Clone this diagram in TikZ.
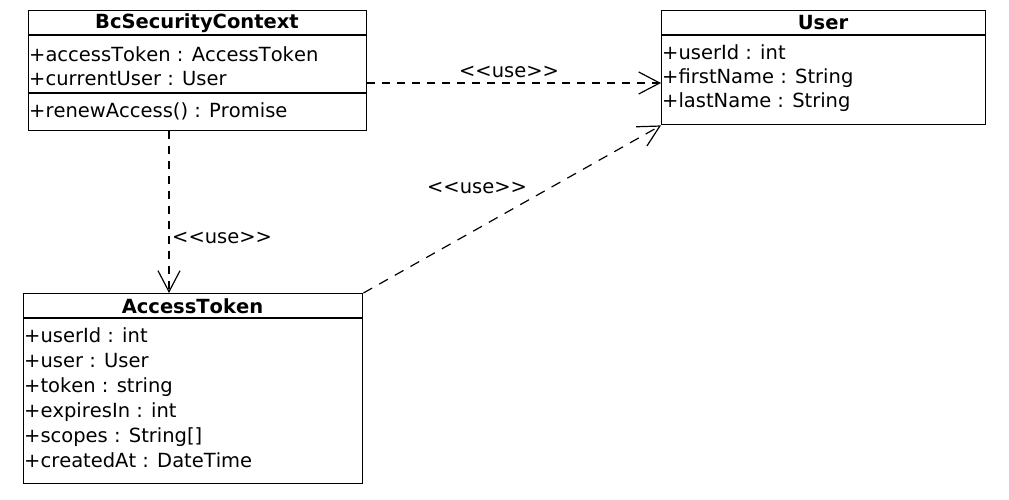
\documentclass[tikz,border=0pt]{standalone}
\usepackage{fontspec}
\setmainfont{DejaVu Sans}[Ligatures=TeXOff, Kerning=Off]
\usetikzlibrary{arrows.meta}
\begin{document}
\begin{tikzpicture}[x=1pt,y=-1pt,
  classbox/.style={draw=black, line width=1.4pt, anchor=north west, inner sep=0pt},
  sepline/.style={line width=1.4pt},
  attr/.style={anchor=base west, inner sep=0pt, font=\fontsize{19.5}{23}\selectfont},
  title/.style={anchor=base, inner sep=0pt, font=\fontsize{19.5}{23}\selectfont\bfseries},
  lbl/.style={inner sep=0pt, font=\fontsize{19.5}{23}\selectfont},
  usedep/.style={line width=1.2pt, dash pattern=on 8pt off 7pt, -{Straight Barb[length=21pt,width=22pt,line width=1.2pt]}},
  longdash/.style={dash pattern=on 10pt off 8pt}
]
\useasboundingbox (0,0) rectangle (1009,499);
\fill[white] (0,0) rectangle (1009,499);

% BcSecurityContext
\node[classbox, minimum width=338pt, minimum height=120pt] (bc) at (28,10) {};
\draw[sepline] (bc.west |- 0,35) -- (bc.east |- 0,35);
\draw[sepline] (bc.west |- 0,93) -- (bc.east |- 0,93);
\node[title] (bct) at (197,28.5) {BcSecurityContext};
\node[attr] (bca1) at (29,61) {+accessToken : AccessToken};
\node[attr] (bca2) at (29,85) {+currentUser : User};
\node[attr] (bcm1) at (29,117) {+renewAccess() : Promise};

% User
\node[classbox, minimum width=324pt, minimum height=114pt] (user) at (661,10) {};
\draw[sepline] (user.west |- 0,35) -- (user.east |- 0,35);
\node[title] (usert) at (823,29) {User};
\node[attr] (usera1) at (662,59) {+userId : int};
\node[attr] (usera2) at (662,83) {+firstName : String};
\node[attr] (usera3) at (662,107) {+lastName : String};

% AccessToken
\node[classbox, minimum width=339pt, minimum height=190pt] (at) at (23,293) {};
\draw[sepline] (at.west |- 0,318) -- (at.east |- 0,318);
\node[title] (att) at (192.5,313) {AccessToken};
\node[attr] (ata1) at (24,342) {+userId : int};
\node[attr] (ata2) at (24,367) {+user : User};
\node[attr] (ata3) at (24,392) {+token : string};
\node[attr] (ata4) at (24,417) {+expiresIn : int};
\node[attr] (ata5) at (24,442) {+scopes : String[]};
\node[attr] (ata6) at (24,467) {+createdAt : DateTime};

% dependencies
\coordinate (hy) at (0,83);
\coordinate (vx) at (169,0);
\draw[usedep] (bc.east |- hy) -- (user.west |- hy);
\draw[usedep] (bc.south -| vx) -- (at.north -| vx);
\draw[usedep, longdash] (at.north east) -- (user.south west);

\node[lbl, anchor=base] (l1) at (509,77) {<<use>>};
\node[lbl, anchor=base west] (l2) at (172,243) {<<use>>};
\node[lbl, anchor=base] (l3) at (477,193) {<<use>>};
\end{tikzpicture}
\end{document}
